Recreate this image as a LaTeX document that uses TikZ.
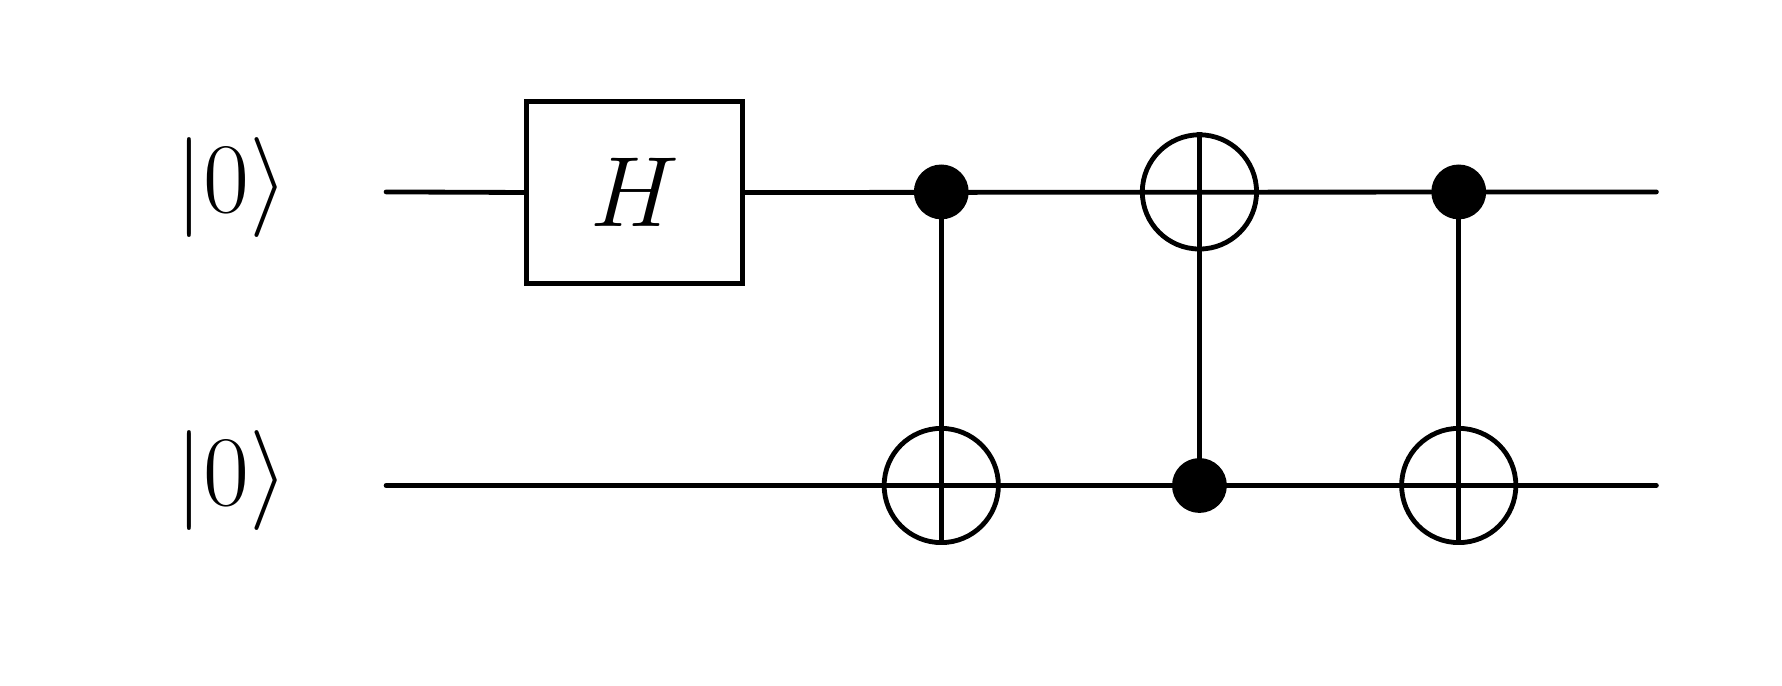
\documentclass[tikz,border=0pt]{standalone}
\usetikzlibrary{positioning}
\tikzset{
    wire/.style={line width=1.2pt},
    ctrl/.style={circle,fill=black,inner sep=0pt,minimum size=0.48cm},
    targ/.style={circle,draw,line width=1.2pt,inner sep=0pt,minimum size=1.0cm},
    gate/.style={rectangle,draw,line width=1.2pt,minimum width=1.89cm,minimum height=1.59cm,font=\fontsize{42}{48}\selectfont},
    ket/.style={font=\fontsize{47}{54}\selectfont}
}
\begin{document}
\begin{tikzpicture}
    \useasboundingbox (0,0) rectangle (15.6,-6);
    \begin{scope}
    \clip (0,0) rectangle (15.6,-4.77);
    % qubit labels and wire ends
    \node[ket] (k1) at (2.03,-1.64) {$|0\rangle$};
    \node[ket] (k2) at (2.03,-4.21) {$|0\rangle$};
    \coordinate (a1) at (3.38,-1.68);
    \coordinate (a2) at (3.38,-4.25);
    \coordinate (b1) at (14.5,-1.68);
    \coordinate (b2) at (14.5,-4.25);
    % gates
    \node[gate] (h) at (5.555,-1.685) {$H$};
    \node[ctrl] (c1) at (8.24,-1.68) {};
    \node[targ] (t1) at (8.24,-4.25) {};
    \node[targ] (t2) at (10.5,-1.68) {};
    \node[ctrl] (c2) at (10.5,-4.25) {};
    \node[ctrl] (c3) at (12.77,-1.68) {};
    \node[targ] (t3) at (12.77,-4.25) {};
    % wires
    \draw[wire,line cap=round] (a1) -- (h.west) (h.east) -- (b1);
    \draw[wire,line cap=round] (a2) -- (b2);
    \draw[wire] (c1.center) -- (t1.south) (t1.west) -- (t1.east);
    \draw[wire] (t2.north) -- (c2.center) (t2.west) -- (t2.east);
    \draw[wire] (c3.center) -- (t3.south) (t3.west) -- (t3.east);
    \end{scope}
\end{tikzpicture}
\end{document}
